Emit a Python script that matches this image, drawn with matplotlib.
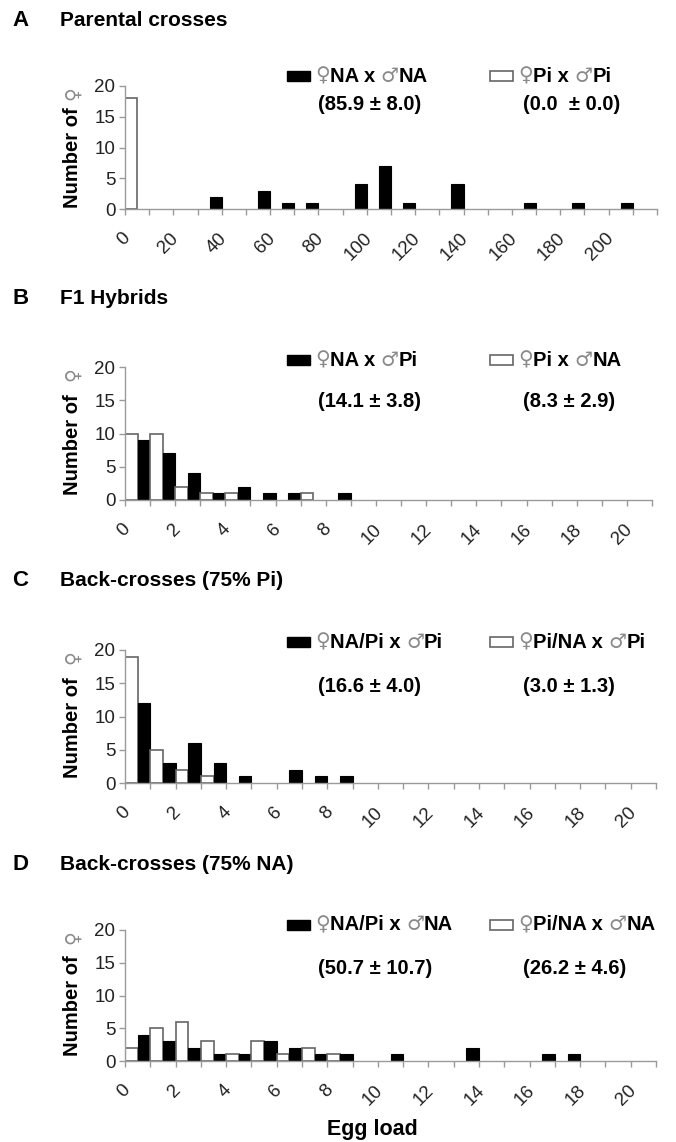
import matplotlib
matplotlib.use('Agg')
import matplotlib.pyplot as plt
import matplotlib.transforms as mtrans
from matplotlib.patches import Rectangle
from matplotlib.offsetbox import TextArea, HPacker, AnnotationBbox

plt.rcParams['font.family'] = ['Liberation Sans', 'DejaVu Sans']

W, H = 676, 1142

# ---- data (counts of females per egg-load class) ----
a_cats = [0, 10, 20, 30, 40, 50, 60, 70, 80, 90, 100, 110, 120, 130, 140, 150, 160, 170, 180, 190, 200, 210]
a_black = [0, 0, 0, 2, 0, 3, 1, 1, 0, 4, 7, 1, 0, 4, 0, 0, 1, 0, 1, 0, 1, 0]
a_white = [18, 0, 0, 0, 0, 0, 0, 0, 0, 0, 0, 0, 0, 0, 0, 0, 0, 0, 0, 0, 0, 0]

bcd_cats = [0, 1, 2, 3, 4, 5, 6, 7, 8, 9, 10, 11, 12, 13, 14, 15, 16, 17, 18, 19, 20]
b_black = [9, 7, 4, 1, 2, 1, 1, 0, 1, 0, 0, 0, 0, 0, 0, 0, 0, 0, 0, 0, 0]
b_white = [10, 10, 2, 1, 1, 0, 0, 1, 0, 0, 0, 0, 0, 0, 0, 0, 0, 0, 0, 0, 0]
c_black = [12, 3, 6, 3, 1, 0, 2, 1, 1, 0, 0, 0, 0, 0, 0, 0, 0, 0, 0, 0, 0]
c_white = [19, 5, 2, 1, 0, 0, 0, 0, 0, 0, 0, 0, 0, 0, 0, 0, 0, 0, 0, 0, 0]
d_black = [4, 3, 2, 1, 1, 3, 2, 1, 1, 0, 1, 0, 0, 2, 0, 0, 1, 1, 0, 0, 0]
d_white = [2, 5, 6, 3, 1, 3, 1, 2, 1, 0, 0, 0, 0, 0, 0, 0, 0, 0, 0, 0, 0]

letters = ['A', 'B', 'C', 'D']
titles = ['Parental crosses', 'F1 Hybrids', 'Back-crosses (75% Pi)', 'Back-crosses (75% NA)']
black_names = [('NA', 'NA'), ('NA', 'Pi'), ('NA/Pi', 'Pi'), ('NA/Pi', 'NA')]
white_names = [('Pi', 'Pi'), ('Pi', 'NA'), ('Pi/NA', 'Pi'), ('Pi/NA', 'NA')]
black_means = ['(85.9 \u00b1 8.0)', '(14.1 \u00b1 3.8)', '(16.6 \u00b1 4.0)', '(50.7 \u00b1 10.7)']
white_means = ['(0.0  \u00b1 0.0)', '(8.3 \u00b1 2.9)', '(3.0 \u00b1 1.3)', '(26.2 \u00b1 4.6)']

panels = [(a_cats, a_black, a_white),
          (bcd_cats, b_black, b_white),
          (bcd_cats, c_black, c_white),
          (bcd_cats, d_black, d_white)]

# layout in pixels from top: (y of 20, y of 0, right edge, title y, legend y, means y)
layout = [(86, 209, 657, 20, 76, 105),
          (367, 500, 652, 299, 360, 402),
          (650, 783, 656, 581, 642, 686),
          (930, 1061, 656, 865, 925, 968)]

GRAY = '#9a9a9a'
SYMGRAY = '#8a8a8a'
FS = 13.5
LFS = 14.5

fig = plt.figure(figsize=(W / 100, H / 100), dpi=100)


def cross_label(fem, mal):
    sym = dict(color=SYMGRAY, fontsize=LFS, family='DejaVu Sans')
    txt = dict(color='black', fontsize=LFS, fontweight='bold')
    parts = [TextArea('\u2640', textprops=sym),
             TextArea(fem + ' x ', textprops=txt),
             TextArea('\u2642', textprops=sym),
             TextArea(mal, textprops=txt)]
    return HPacker(children=parts, sep=0, pad=0, align='baseline')


def place(box, xpx, ypx):
    ab = AnnotationBbox(box, (xpx / W, 1 - ypx / H), xycoords='figure fraction',
                        box_alignment=(0, 0.5), frameon=False, pad=0)
    fig.add_artist(ab)


for k, (cats, black, white) in enumerate(panels):
    y20, y0, xr, yt, yl, ym = layout[k]
    left = 125
    ax = fig.add_axes([left / W, 1 - y0 / H, (xr - left) / W, (y0 - y20) / H])
    n = len(cats)
    for i in range(n):
        if white[i] > 0:
            ax.bar(i, white[i], width=0.5, align='edge', color='white',
                   edgecolor='#666666', linewidth=1.2, zorder=2)
        if black[i] > 0:
            ax.bar(i + 0.5, black[i], width=0.5, align='edge', color='black',
                   edgecolor='black', linewidth=0.8, zorder=2)

    ax.set_xlim(0, n)
    ax.set_ylim(0, 20)
    for s in ['top', 'right']:
        ax.spines[s].set_visible(False)
    for s in ['left', 'bottom']:
        ax.spines[s].set_color(GRAY)
        ax.spines[s].set_linewidth(1.0)

    ax.set_yticks([0, 5, 10, 15, 20])
    ax.tick_params(axis='y', colors=GRAY, labelcolor='#222222', labelsize=FS,
                   length=4, width=1, pad=3)

    ax.set_xticks(list(range(n + 1)), minor=True)
    ax.set_xticks([i + 0.35 for i in range(0, n, 2)])
    ax.set_xticklabels([str(cats[i]) for i in range(0, n, 2)], rotation=45,
                       ha='right', rotation_mode='default')
    ax.tick_params(axis='x', which='major', length=0, labelsize=FS,
                   labelcolor='#222222', pad=15)
    ax.tick_params(axis='x', which='minor', length=4, width=1, colors=GRAY)

    # y label: "Number of" plus gray female sign
    tr = mtrans.blended_transform_factory(fig.transFigure, ax.transData)
    fig.text(73 / W, 8.4, 'Number of', transform=tr, rotation=90, ha='center',
             va='center', fontsize=14.5, fontweight='bold')
    fig.text(73 / W, 18.9, '\u2640', transform=tr, rotation=90, ha='center',
             va='center', fontsize=FS, color=SYMGRAY, family='DejaVu Sans')

    # titles
    fig.text(12 / W, 1 - yt / H, letters[k], fontsize=16, fontweight='bold',
             va='center', ha='left')
    fig.text(60 / W, 1 - yt / H, titles[k], fontsize=15, fontweight='bold',
             va='center', ha='left')

    # legend
    fig.add_artist(Rectangle((287 / W, 1 - (yl + 5) / H), 23 / W, 10 / H,
                             transform=fig.transFigure, facecolor='black',
                             edgecolor='black'))
    fig.add_artist(Rectangle((490 / W, 1 - (yl + 5) / H), 23 / W, 10 / H,
                             transform=fig.transFigure, facecolor='white',
                             edgecolor='#666666', linewidth=1.2))
    place(cross_label(*black_names[k]), 315, yl)
    place(cross_label(*white_names[k]), 518, yl)
    fig.text(318 / W, 1 - ym / H, black_means[k], fontsize=LFS, fontweight='bold',
             va='center', ha='left')
    fig.text(523 / W, 1 - ym / H, white_means[k], fontsize=LFS, fontweight='bold',
             va='center', ha='left')

fig.text(372 / W, 1 - 1130 / H, 'Egg load', fontsize=15.5, fontweight='bold',
         ha='center', va='center')

fig.savefig('out.png', dpi=100)
